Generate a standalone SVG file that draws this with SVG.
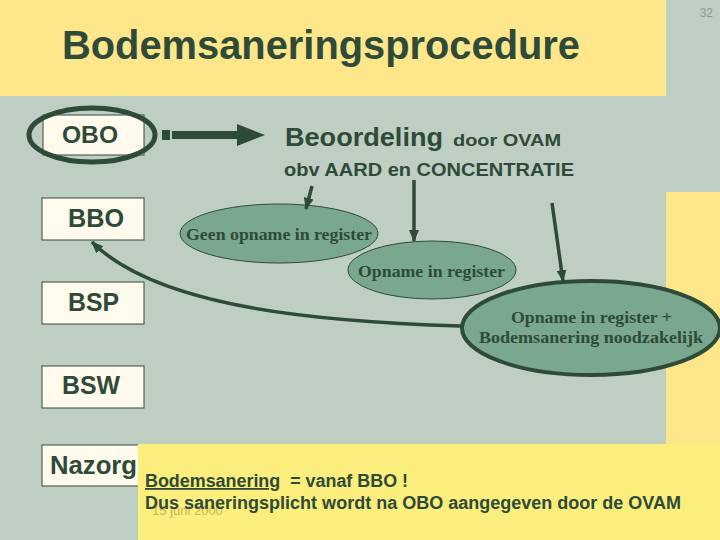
<svg xmlns="http://www.w3.org/2000/svg" width="720" height="540" viewBox="0 0 720 540">
<defs>
<style>
.sans{font-family:"Liberation Sans",Arial,sans-serif;fill:#2E4A38}
.b{font-weight:bold}
.serif{font-family:"Liberation Serif","Times New Roman",serif;font-weight:bold;fill:#2E4A38}
.box{fill:#FFFAEC;stroke:#2E4A38;stroke-width:1}
.ell{fill:#7AA88E;stroke:#2E4A38;stroke-width:1}
.conn{fill:none;stroke:#2E4A38;stroke-width:3.5}
</style>
<marker id="ah" markerUnits="userSpaceOnUse" markerWidth="12" markerHeight="12" viewBox="0 0 12 12" refX="11" refY="6" orient="auto">
<path d="M0,1 L12,6 L0,11 Z" fill="#2E4A38"/>
</marker>
</defs>
<rect x="0" y="0" width="720" height="540" fill="#BFCEC3"/>
<rect x="0" y="0" width="666" height="96" fill="#FEE78A"/>
<rect x="666" y="192" width="54" height="260" fill="#FEE78A"/>
<text x="713" y="17" font-family="Liberation Sans,Arial,sans-serif" font-size="12" fill="#8A9C92" text-anchor="end">32</text>
<text class="sans b" x="62" y="59" font-size="40" textLength="518" lengthAdjust="spacingAndGlyphs">Bodemsaneringsprocedure</text>

<g id="obo">
<rect class="box" x="43" y="115" width="101" height="40"/>
<ellipse cx="92" cy="135" rx="63" ry="27" fill="none" stroke="#2E4A38" stroke-width="5"/>
<text class="sans b" x="62" y="143" font-size="23" textLength="56" lengthAdjust="spacingAndGlyphs">OBO</text>
</g>
<g id="beoordeling">
<text class="sans b" x="285" y="146" font-size="26" textLength="158" lengthAdjust="spacingAndGlyphs">Beoordeling</text>
<text class="sans b" x="453" y="146" font-size="17" textLength="108" lengthAdjust="spacingAndGlyphs">door OVAM</text>
<text class="sans b" x="284" y="176" font-size="18" textLength="290" lengthAdjust="spacingAndGlyphs">obv AARD en CONCENTRATIE</text>
</g>
<g id="bbo">
<rect class="box" x="42" y="198" width="102" height="42"/>
<text class="sans b" x="68" y="227" font-size="25" textLength="56" lengthAdjust="spacingAndGlyphs">BBO</text>
</g>
<g id="bsp">
<rect class="box" x="42" y="282" width="102" height="42"/>
<text class="sans b" x="68" y="311" font-size="25" textLength="51" lengthAdjust="spacingAndGlyphs">BSP</text>
</g>
<g id="bsw">
<rect class="box" x="42" y="366" width="102" height="42"/>
<text class="sans b" x="62" y="394" font-size="25" textLength="58" lengthAdjust="spacingAndGlyphs">BSW</text>
</g>
<g id="nazorg">
<rect class="box" x="42" y="445" width="102" height="41"/>
<text class="sans b" x="50" y="474" font-size="25" textLength="87" lengthAdjust="spacingAndGlyphs">Nazorg</text>
</g>
<g id="geen">
<ellipse class="ell" cx="279" cy="233.5" rx="99" ry="29.5"/>
<text class="serif" x="186" y="240" font-size="16" textLength="186" lengthAdjust="spacingAndGlyphs">Geen opname in register</text>
</g>
<g id="opname">
<ellipse class="ell" cx="432" cy="270" rx="84" ry="29"/>
<text class="serif" x="358" y="277" font-size="16" textLength="147" lengthAdjust="spacingAndGlyphs">Opname in register</text>
</g>
<g id="opname-sanering">
<ellipse cx="591" cy="328" rx="129" ry="47" fill="#7AA88E" stroke="#2E4A38" stroke-width="4"/>
<text class="serif" x="511" y="323" font-size="16" textLength="161" lengthAdjust="spacingAndGlyphs">Opname in register +</text>
<text class="serif" x="479" y="343" font-size="16" textLength="224" lengthAdjust="spacingAndGlyphs">Bodemsanering noodzakelijk</text>
</g>

<g id="connectors">
<rect x="162" y="130" width="8" height="10" fill="#2E4A38"/>
<rect x="172" y="131" width="67" height="8" fill="#2E4A38"/>
<polygon points="237,124 265,135 237,146" fill="#2E4A38"/>
<line class="conn" x1="312" y1="186" x2="306" y2="209" marker-end="url(#ah)" stroke-width="3"/>
<line class="conn" x1="414" y1="180" x2="414" y2="241" marker-end="url(#ah)" stroke-width="3"/>
<line class="conn" x1="552" y1="203" x2="563" y2="281" marker-end="url(#ah)" stroke-width="3"/>
<path class="conn" d="M461,326 C330,322 160,310 92,242" marker-end="url(#ah)"/>
</g>

<g id="note">
<rect x="138" y="444" width="582" height="96" fill="#FCEE7C"/>
<text x="152" y="515" font-family="Liberation Sans,Arial,sans-serif" font-size="13" fill="#C9B45E">15 juni 2000</text>
<text class="sans b" x="145" y="487" font-size="18" xml:space="preserve" textLength="263" lengthAdjust="spacingAndGlyphs"><tspan text-decoration="underline">Bodemsanering</tspan>  = vanaf BBO !</text>
<text class="sans b" x="145" y="509" font-size="18" textLength="536" lengthAdjust="spacingAndGlyphs">Dus saneringsplicht wordt na OBO aangegeven door de OVAM</text>
</g>
</svg>
